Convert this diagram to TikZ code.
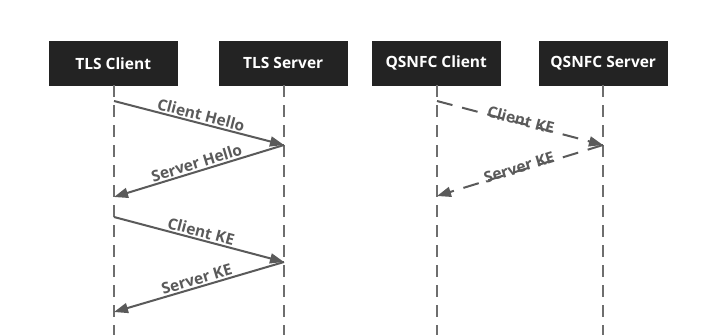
\documentclass[tikz,border=0pt]{standalone}
\usepackage{fontspec}
\setmainfont{Open Sans}
\usetikzlibrary{arrows.meta}
\definecolor{boxfill}{HTML}{232323}
\definecolor{linegrey}{HTML}{5A5A5A}
\definecolor{lifegrey}{HTML}{6E6E6E}
\tikzset{
  actor/.style={draw=boxfill, fill=boxfill, text=white, font=\bfseries\fontsize{15.5}{17}\selectfont,
    minimum width=128pt, minimum height=44pt, inner sep=0pt, anchor=north west},
  lifeline/.style={draw=lifegrey, line width=1.8pt, dash pattern=on 12pt off 8pt},
  msg/.style={draw=linegrey, line width=2pt, -{Triangle[length=14pt,width=10pt]}},
  dmsg/.style={msg, dash pattern=on 16pt off 10pt},
  lbl/.style={midway, sloped, above, text=linegrey, inner sep=1.5pt, font=\bfseries\fontsize{15.5}{17}\selectfont},
  dlbl/.style={midway, sloped, anchor=south, yshift=-5pt, text=linegrey, inner sep=1.5pt, font=\bfseries\fontsize{15.5}{17}\selectfont}
}
\begin{document}
\begin{tikzpicture}[x=1pt,y=-1pt]
\useasboundingbox[fill=white] (0,0) rectangle (715,335);
% actors
\node[actor] (tc) at (49,41) {TLS Client};
\node[actor] (ts) at (219,41) {TLS Server};
\node[actor] (qc) at (372,41) {QSNFC Client};
\node[actor] (qs) at (539,41) {QSNFC Server};
% lifeline ends
\coordinate (tcE) at (114,335);
\coordinate (tsE) at (284,335);
\coordinate (qcE) at (437,335);
\coordinate (qsE) at (603,335);
\draw[lifeline] (tc.south -| tcE) -- (tcE);
\draw[lifeline] (ts.south -| tsE) -- (tsE);
\draw[lifeline] (qc.south -| qcE) -- (qcE);
\draw[lifeline] (qs.south -| qsE) -- (qsE);
% message points
\coordinate (a1) at (114,101);
\coordinate (a2) at (284,145);
\coordinate (a3) at (114,197);
\coordinate (a4) at (114,217);
\coordinate (a5) at (284,262);
\coordinate (a6) at (114,312);
\coordinate (b1) at (437,101);
\coordinate (b2) at (603,145);
\coordinate (b3) at (437,196);
% TLS messages
\draw[msg] (a1) -- node[lbl] {Client Hello} (a2);
\draw[msg] (a2) -- node[lbl] {Server Hello} (a3);
\draw[msg] (a4) -- node[lbl] {Client KE} (a5);
\draw[msg] (a5) -- node[lbl] {Server KE} (a6);
% QSNFC messages
\draw[dmsg] (b1) -- node[dlbl] {Client KE} (b2);
\draw[dmsg] (b2) -- node[dlbl] {Server KE} (b3);
\end{tikzpicture}
\end{document}
